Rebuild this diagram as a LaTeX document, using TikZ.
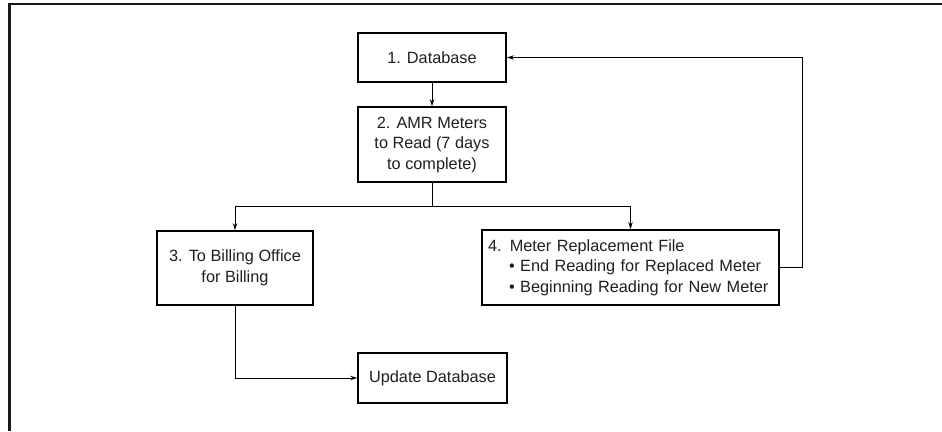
\documentclass[tikz,border=0pt]{standalone}
\usepackage{fontspec}
\setmainfont{Liberation Sans}
\usetikzlibrary{arrows.meta}
\begin{document}
\begin{tikzpicture}[x=1pt,y=-1pt,
  box/.style={draw=black, line width=1.8pt, rectangle, inner sep=0pt,
    font=\fontsize{16.3}{20.5}\selectfont, align=center, text=black!88},
  link/.style={draw=black, line width=0.9pt},
  arr/.style={link, -{Stealth[length=7pt,width=4.5pt]}}]
  \useasboundingbox (0,0) rectangle (942,431);
  % outer frame: top and left edges only
  \draw[line width=2.6pt, black!90] (942,4) -- (9.3,4) -- (9.3,431);

  \node[box, minimum width=148pt, minimum height=49pt] (db) at (432,57.5) {1. Database};
  \node[box, minimum width=148pt, minimum height=75pt] (amr) at (432,144.5)
    {2. AMR Meters\\to Read (7 days\\to complete)};
  \node[box, minimum width=156pt, minimum height=74pt] (bill) at (235,268)
    {3. To Billing Office\\for Billing};
  \node[box, minimum width=297pt, minimum height=75pt, align=left,
        text width=285pt, inner xsep=6pt] (repl) at (630.5,267.5)
    {4. Meter Replacement File\\
     \hspace*{21pt}\textbullet\ End Reading for Replaced Meter\\
     \hspace*{21pt}\textbullet\ Beginning Reading for New Meter};
  \node[box, minimum width=149pt, minimum height=50pt] (upd) at (432.5,378) {Update Database};

  \coordinate (split) at (432,206);
  \coordinate (loop) at (802,57.5);

  \draw[arr] (db) -- (amr);
  \draw[link] (amr) -- (split);
  \draw[arr] (split) -| (bill.north);
  \draw[arr] (split) -| (repl.north);
  \draw[arr] (bill.south) |- (upd.west);
  \draw[arr] (repl.east) -| (loop) -- (db.east);
\end{tikzpicture}
\end{document}
